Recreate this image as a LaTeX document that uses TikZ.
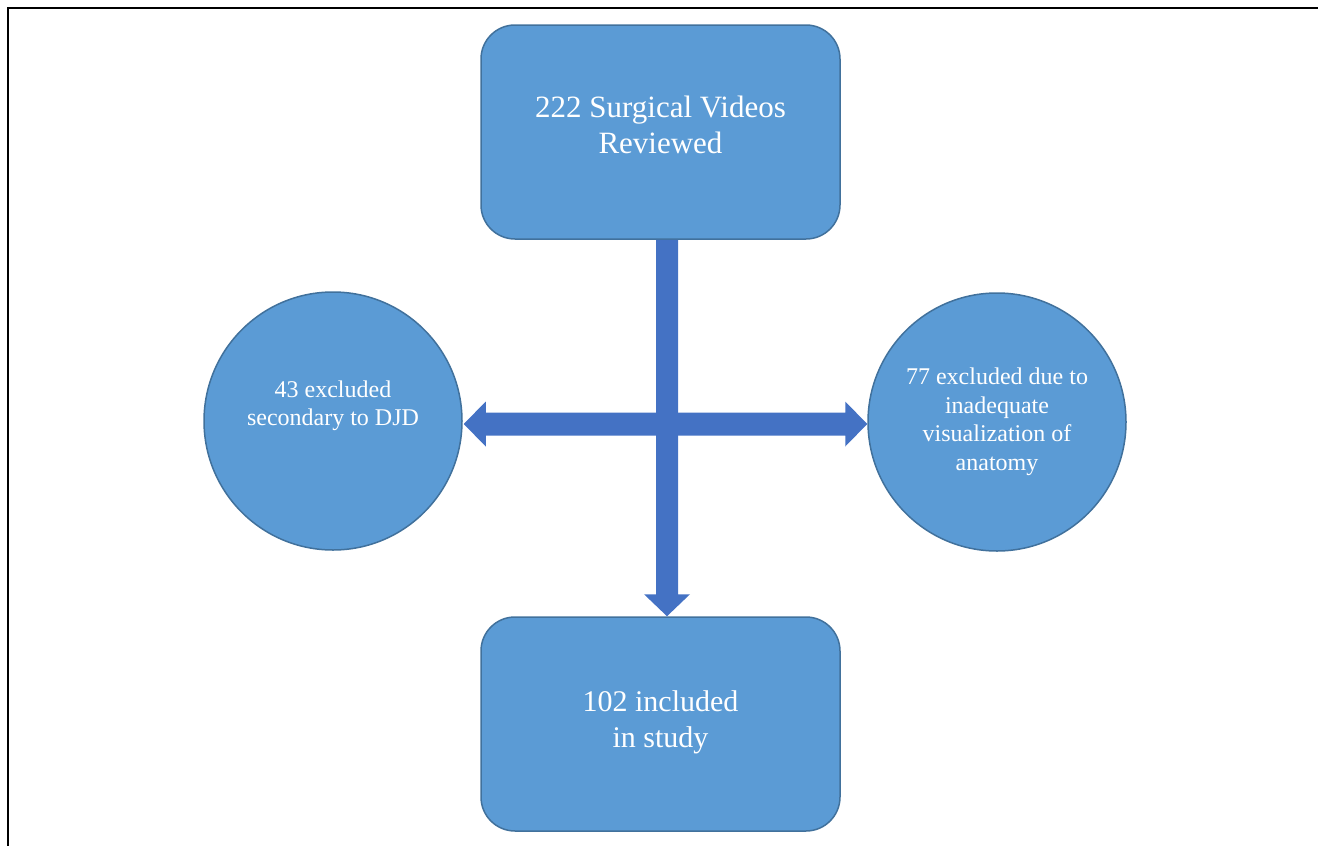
\documentclass[tikz,border=0pt]{standalone}
\usepackage{fontspec}
\setmainfont{Liberation Serif}
\usetikzlibrary{calc}
\definecolor{boxfill}{HTML}{5B9BD5}
\definecolor{boxline}{HTML}{41719C}
\definecolor{arrfill}{HTML}{4472C4}
\tikzset{
  flowbox/.style={draw=boxline, fill=boxfill, line width=1.5pt, rounded corners=34pt,
    minimum width=359pt, minimum height=214pt, inner sep=0pt, align=center,
    text=white, font=\fontsize{30}{36}\selectfont},
  flowcirc/.style={draw=boxline, fill=boxfill, line width=1.5pt, circle,
    minimum size=258pt, inner sep=0pt, align=center,
    text=white, font=\fontsize{24}{28.5}\selectfont},
  blockarrow/.style={fill=arrfill},
  framepart/.style={draw=black, line width=2pt}
}
\begin{document}
\begin{tikzpicture}[x=1pt, y=-1pt]
\useasboundingbox (0,0) rectangle (1318,846);
\draw[framepart] (7.5,846) -- (7.5,7.5) -- (1318,7.5);

\node[flowbox, text depth=15pt, font=\fontsize{31}{36}\selectfont] (top) at (660.5,132) {222 Surgical Videos\\Reviewed};
\node[flowbox, text depth=9pt] (bot) at (660.5,724) {102 included\\in study};
\node[flowcirc, text depth=36pt] (lft) at (333,421) {43 excluded\\secondary to DJD};
\node[flowcirc] (rgt) at (997,422) {77 excluded due to\\inadequate\\visualization of\\anatomy};

% vertical block arrow
\coordinate (vt) at ($(top.south)+(6.5,0)$);
\coordinate (vb) at ($(bot.north)+(6.5,0)$);
\fill[blockarrow] ($(vt)+(-11,0)$) -- ($(vb)+(-11,-22)$) -- ($(vb)+(-23,-22)$) -- (vb)
  -- ($(vb)+(23,-22)$) -- ($(vb)+(11,-22)$) -- ($(vt)+(11,0)$) -- cycle;

% horizontal double block arrow
\coordinate (hl) at ($(lft.east)+(1,3)$);
\coordinate (hr) at ($(rgt.west)+(0,2)$);
\fill[blockarrow] (hl) -- ($(hl)+(22,-22.5)$) -- ($(hl)+(22,-11.5)$) -- ($(hr)+(-22,-11.5)$)
  -- ($(hr)+(-22,-22.5)$) -- (hr) -- ($(hr)+(-22,22.5)$) -- ($(hr)+(-22,11.5)$)
  -- ($(hl)+(22,11.5)$) -- ($(hl)+(22,22.5)$) -- cycle;
\end{tikzpicture}
\end{document}
